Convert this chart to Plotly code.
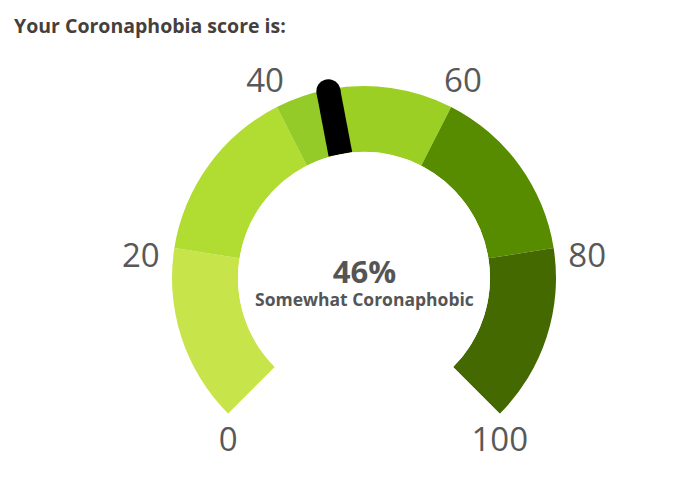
import plotly.graph_objects as go

# ---- data ----
title_text = "Your Coronaphobia score is:"
score = 46
score_label = "Somewhat Coronaphobic"
band_starts = [0, 20, 40, 46, 60, 80]
band_ends = [20, 40, 46, 60, 80, 100]
band_colors = ["#c8e44b", "#b1dc31", "#94cb29", "#9bcf24", "#578b00", "#446900"]
tick_values = [0, 20, 40, 60, 80, 100]
tick_labels = ["0", "20", "40", "60", "80", "100"]

# ---- geometry / style ----
SPAN = 270.0  # degrees covered by 0..100
def to_theta(v):
    return v * SPAN / 100.0

W, H = 685, 477
OFF = 8                      # page body margin
CX, CY = 364 - OFF, 278 - OFF  # gauge centre in figure pixels
R_IN, R_OUT = 126, 192
R_FULL = 232
RMAX = (R_FULL - R_IN) / (R_OUT - R_IN)
HOLE = R_IN / R_FULL
def px_to_r(px):
    return (px - R_IN) / (R_OUT - R_IN)
S45 = 0.70710678
FONT = "Open Sans"
LABEL_COLOR = "#585858"
LABEL_SIZE = 33

fig = go.Figure()

# gauge bands
fig.add_trace(go.Barpolar(
    r=[1] * len(band_starts),
    base=0,
    theta=[to_theta((s + e) / 2) for s, e in zip(band_starts, band_ends)],
    width=[to_theta(e - s) for s, e in zip(band_starts, band_ends)],
    marker=dict(color=band_colors, line=dict(width=0)),
    hoverinfo="skip",
    showlegend=False,
))

# needle
NEEDLE_R = 0.97
fig.add_trace(go.Scatterpolar(
    r=[0, NEEDLE_R],
    theta=[to_theta(score)] * 2,
    mode="lines",
    line=dict(color="black", width=24),
    hoverinfo="skip",
    showlegend=False,
    cliponaxis=False,
))
fig.add_trace(go.Scatterpolar(
    r=[NEEDLE_R],
    theta=[to_theta(score)],
    mode="markers",
    marker=dict(color="black", size=24, symbol="circle", line=dict(width=0)),
    hoverinfo="skip",
    showlegend=False,
    cliponaxis=False,
))

# tick labels: (indices, radius in px, text position, marker offset)
label_groups = [
    ([2, 3], 218, "middle center", 0),
    ([1, 4], 226, "bottom center", 0),
    ([0, 5], R_OUT, "bottom center", 19),
]
for idx, rpx, pos, msize in label_groups:
    fig.add_trace(go.Scatterpolar(
        r=[px_to_r(rpx)] * len(idx),
        theta=[to_theta(tick_values[i]) for i in idx],
        text=[tick_labels[i] for i in idx],
        mode="markers+text" if msize else "text",
        marker=dict(size=msize, color="rgba(0,0,0,0)"),
        textposition=pos,
        textfont=dict(family=FONT, size=LABEL_SIZE, color=LABEL_COLOR),
        hoverinfo="skip",
        showlegend=False,
        cliponaxis=False,
    ))

fig.update_layout(
    width=W, height=H,
    margin=dict(l=0, r=0, t=0, b=0),
    paper_bgcolor="white",
    plot_bgcolor="white",
    font=dict(family=FONT),
    polar=dict(
        sector=[-45, 225],
        domain=dict(x=[(CX - R_FULL) / W, (CX + R_FULL) / W],
                    y=[1 - (CY + S45 * R_FULL) / H, 1 - (CY - R_FULL) / H]),
        hole=HOLE,
        bgcolor="rgba(0,0,0,0)",
        radialaxis=dict(range=[0, RMAX], visible=False),
        angularaxis=dict(rotation=225, direction="clockwise", visible=False),
    ),
    annotations=[
        dict(text="<b>" + title_text + "</b>", xref="paper", yref="paper",
             x=4 / W, y=1 - 2 / H, xanchor="left", yanchor="top", showarrow=False,
             font=dict(family=FONT, size=19.5, color="#46403c")),
        dict(text="<span style='font-size:31px'><b>%d%%</b></span><br><b>%s</b>" % (score, score_label),
             xref="paper", yref="paper",
             x=CX / W, y=1 - 272.4 / H, xanchor="center", yanchor="middle", showarrow=False,
             align="center",
             font=dict(family=FONT, size=17.5, color="#555555")),
    ],
)

fig.write_html("out.html")
